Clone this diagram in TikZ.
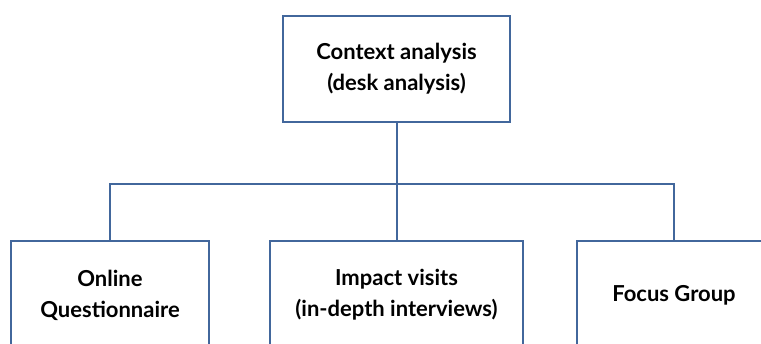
\documentclass[tikz,border=0pt]{standalone}
\usepackage{fontspec}
\setmainfont{Lato}
\usetikzlibrary{positioning, calc}
\definecolor{boxblue}{RGB}{66,103,156}
\tikzset{
    stagebox/.style={draw=boxblue, line width=2pt, fill=white, align=center,
        font=\fontsize{22}{31}\selectfont\bfseries, inner sep=0pt},
    busline/.style={draw=boxblue, line width=2pt}
}
\begin{document}
\begin{tikzpicture}[x=1pt, y=1pt]
    \def \H {108}
    \useasboundingbox (0,0) rectangle (761,-343);
    % top level
    \node[stagebox, minimum width=227, minimum height=106] (ctx) at (396.5,-69) {Context analysis\\(desk analysis)};
    % bottom level
    \node[stagebox, minimum width=198, minimum height=\H] (online) at (110,-295) {Online\\Questionnaire};
    \node[stagebox, minimum width=253, minimum height=\H] (impact) at (396.5,-295) {Impact visits\\(in-depth interviews)};
    \node[stagebox, minimum width=195, minimum height=\H] (focus) at (674,-295) {Focus Group};
    \coordinate (bus) at (0,-184);
    \draw[busline] (ctx.south) -- (impact.north);
    \draw[busline] (online.north) -- (online.north |- bus) -- (focus.north |- bus) -- (focus.north);
\end{tikzpicture}
\end{document}
